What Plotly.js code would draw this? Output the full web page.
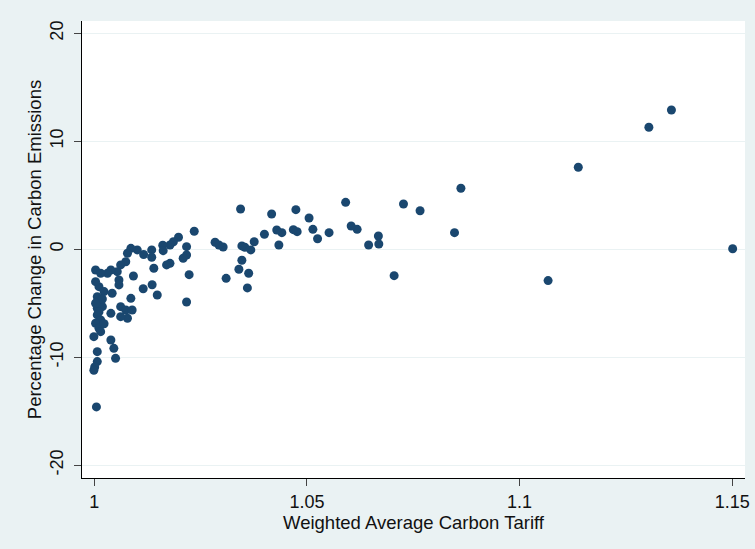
<!DOCTYPE html>
<html>
<head>
<meta charset="utf-8">
<script src="https://cdn.plot.ly/plotly-3.0.1.min.js"></script>
<style>html,body{margin:0;padding:0;background:#EAF2F3;}#chart{width:755px;height:549px;}</style>
</head>
<body>
<div id="chart"></div>
<script>
// Weighted average carbon tariff (x) vs percentage change in carbon emissions (y)
const tariff = [
  1.1357, 1.1304, 1.1138, 1.0862, 1.0847, 1.1067, 1.1501, 1.0766, 1.0727, 1.0705,
  1.0668, 1.0669, 1.0645, 1.0618, 1.0604, 1.0591, 1.0552, 1.0525, 1.0514, 1.0505,
  1.0477, 1.0468, 1.0474, 1.0441, 1.0429, 1.0434, 1.0417, 1.0400, 1.0376, 1.0368,
  1.0360, 1.0363, 1.0354, 1.0347, 1.0347, 1.0340, 1.0344, 1.0310, 1.0303, 1.0293,
  1.0284, 1.0235, 1.0223, 1.0217, 1.0217, 1.0209, 1.0217, 1.0198, 1.0186, 1.0178,
  1.0161, 1.0162, 1.0178, 1.0170, 1.0148, 1.0140, 1.0136, 1.0135, 1.0135, 1.0115,
  1.0116, 1.0101, 1.0086, 1.0078, 1.0074, 1.0062, 1.0054, 1.0039, 1.0031, 1.0003,
  1.0015, 1.0058, 1.0058, 1.0092, 1.0011, 1.0023, 1.0042, 1.0086, 1.0062, 1.0074,
  1.0089, 1.0078, 1.0062, 1.0039, 1.0007, 1.0007, 1.0007, 1.0007, 1.0019, 1.0015,
  1.0011, 1.0003, 1.0011, 1.0015, 0.9999, 1.0039, 1.0046, 1.0050, 1.0007, 1.0007,
  1.0001, 0.9999, 1.0005, 1.0003, 1.0019, 1.0003, 1.0011, 1.0023
];
const emissionsChange = [
  12.9, 11.3, 7.6, 5.65, 1.54, -2.9, 0.05, 3.57, 4.19, -2.44,
  1.23, 0.49, 0.40, 1.85, 2.16, 4.35, 1.54, 0.98, 1.85, 2.90,
  1.63, 1.82, 3.67, 1.54, 1.79, 0.40, 3.27, 1.39, 0.70, -0.06,
  -3.58, -2.22, 0.19, 0.31, -1.02, -1.85, 3.73, -2.69, 0.21, 0.40,
  0.65, 1.67, -2.35, 0.24, -0.53, -0.83, -4.88, 1.11, 0.70, 0.40,
  0.37, -0.13, -1.30, -1.45, -4.23, -1.76, -3.28, -0.06, -0.74, -3.65,
  -0.48, -0.06, 0.09, -0.37, -1.15, -1.45, -2.07, -1.92, -2.22, -1.92,
  -2.22, -2.84, -3.30, -2.47, -3.46, -3.92, -4.07, -4.54, -5.31, -5.62,
  -5.62, -6.39, -6.24, -5.93, -4.39, -4.85, -5.46, -6.08, -5.31, -6.55,
  -7.00, -6.85, -7.31, -7.63, -8.09, -8.40, -9.17, -10.10, -9.48, -10.40,
  -10.9, -11.2, -14.6, -3.0, -4.6, -5.0, -5.8, -6.9
];
const xTickVals = [1, 1.05, 1.1, 1.15];
const xTickText = ['1', '1.05', '1.1', '1.15'];
const yTickVals = [-20, -10, 0, 10, 20];
const yTickText = ['-20', '-10', '0', '10', '20'];

const font = 'Liberation Sans, Arial, sans-serif';
const trace = {
  x: tariff, y: emissionsChange, type: 'scatter', mode: 'markers',
  marker: {size: 9, color: '#1a476f', line: {width: 0}},
  hoverinfo: 'x+y'
};
const layout = {
  width: 755, height: 549,
  paper_bgcolor: '#EAF2F3', plot_bgcolor: '#FFFFFF',
  margin: {l: 82, r: 10, t: 21, b: 71, pad: 0},
  showlegend: false,
  font: {family: font, size: 18, color: '#111'},
  xaxis: {
    range: [0.99711, 1.153], tickmode: 'array', tickvals: xTickVals, ticktext: xTickText,
    ticks: 'outside', ticklen: 7, tickwidth: 1, tickcolor: '#444',
    showline: true, linecolor: '#000', linewidth: 1, mirror: false,
    showgrid: false, zeroline: false,
    tickfont: {family: font, size: 18, color: '#111'},
    title: {text: 'Weighted Average Carbon Tariff', font: {family: font, size: 18.5, color: '#111'}, standoff: 0},
    automargin: false
  },
  yaxis: {
    range: [-21.18, 21.14], tickmode: 'array', tickvals: yTickVals, ticktext: yTickText,
    ticks: 'outside', ticklen: 7, tickwidth: 1, tickcolor: '#444', tickangle: -90,
    ticklabelstandoff: 4,
    showline: true, linecolor: '#000', linewidth: 1, mirror: false,
    showgrid: true, gridcolor: '#EAF2F3', gridwidth: 1.5, zeroline: false,
    tickfont: {family: font, size: 18, color: '#111'},
    title: {text: 'Percentage Change in Carbon Emissions', font: {family: font, size: 18.5, color: '#111'}, standoff: 0},
    automargin: false
  }
};
Plotly.newPlot('chart', [trace], layout, {displayModeBar: false, staticPlot: true});
</script>
</body>
</html>
